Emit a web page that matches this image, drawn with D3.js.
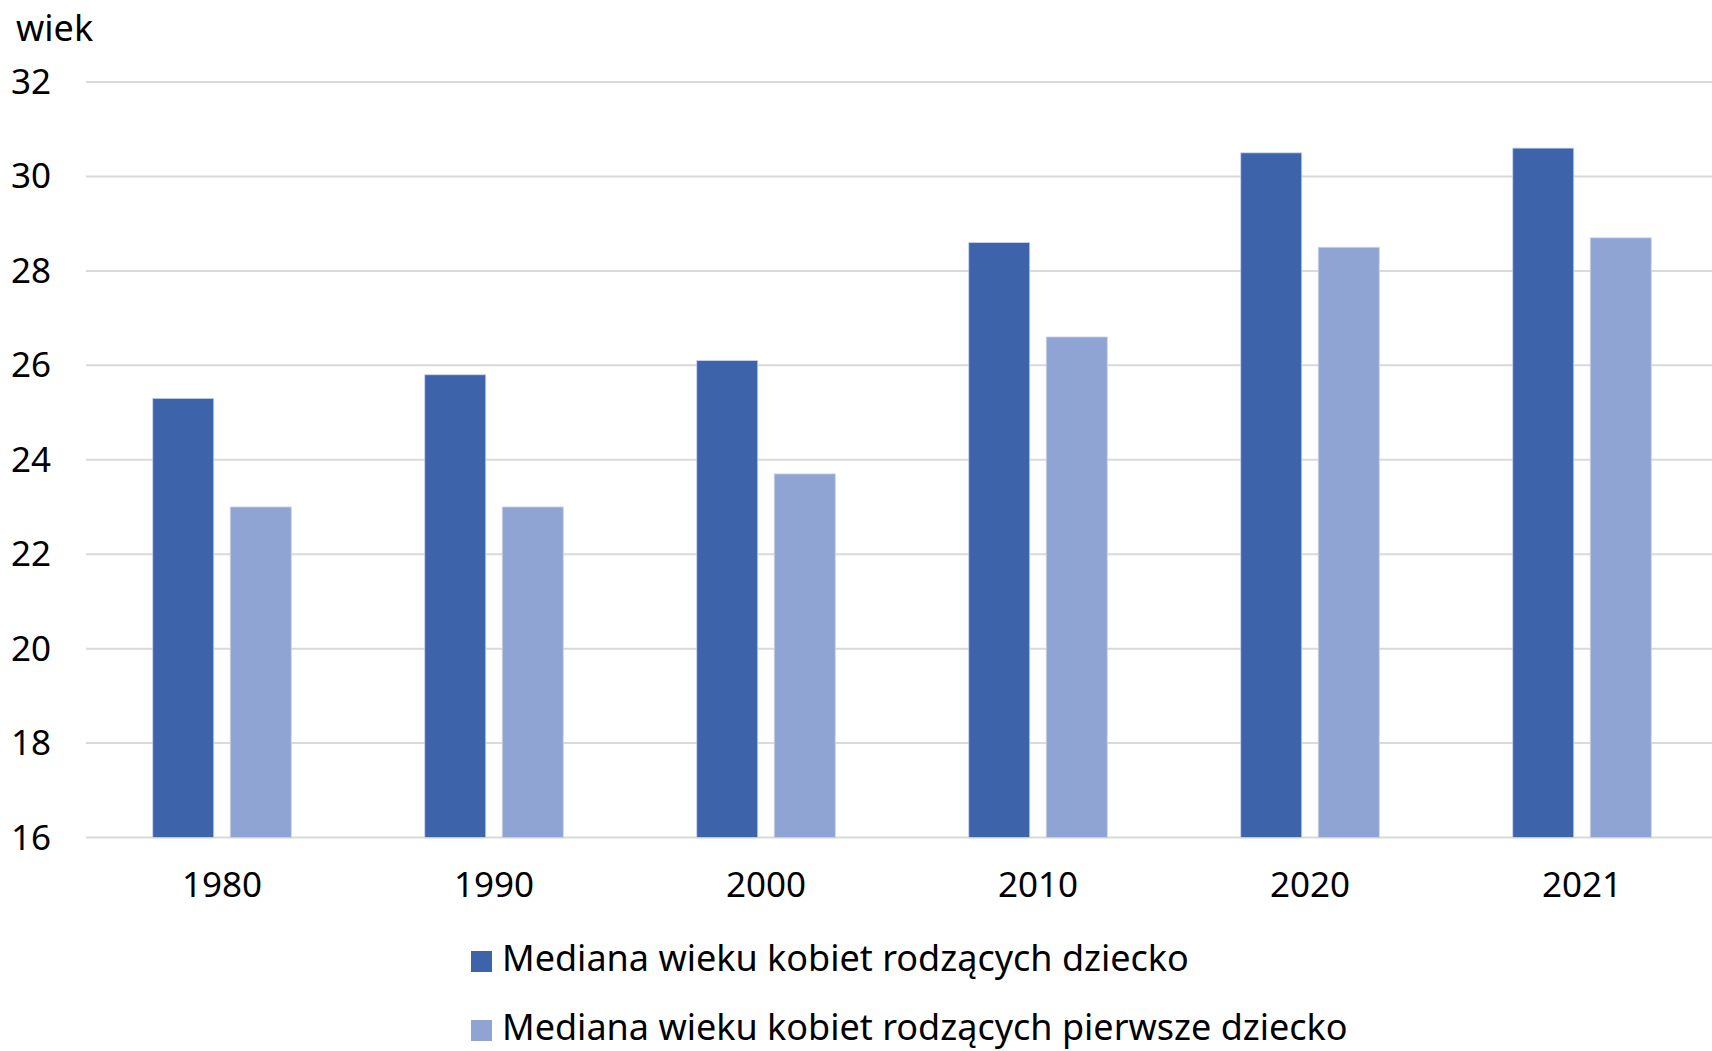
<!DOCTYPE html>
<html><head><meta charset="utf-8">
<script src="https://cdn.jsdelivr.net/npm/d3@7"></script>
<style>body{margin:0;background:#fff}svg{display:block}text{font-family:"Noto Sans",sans-serif;fill:#000}</style>
</head><body><svg id="c" width="1712" height="1051"></svg>
<script>
const categories = ["1980","1990","2000","2010","2020","2021"];
const seriesNames = ["Mediana wieku kobiet rodzących dziecko","Mediana wieku kobiet rodzących pierwsze dziecko"];
const medianAll = [25.3,25.8,26.1,28.6,30.5,30.6];
const medianFirst = [23.0,23.0,23.7,26.6,28.5,28.7];
const yTicks = [16,18,20,22,24,26,28,30,32];
const colors = ["#3D64AB","#90A4D4"];

(function(){
const svg = d3.select("#c");
const pL = 86, pR = 1712, pT = 82, pB = 837.5;
const x = d3.scaleBand().domain(categories).range([pL,pL+6*272]);
const y = d3.scaleLinear().domain([16,32]).range([pB,pT]);
const barW = 61, gap = 16.5;

svg.append("g").selectAll("line").data(yTicks).join("line")
  .attr("x1",pL).attr("x2",pR).attr("y1",d=>y(d)).attr("y2",d=>y(d))
  .attr("stroke","#D9D9D9").attr("stroke-width",2);

svg.append("g").selectAll("text").data(yTicks).join("text")
  .attr("x",51).attr("y",d=>y(d)+12).attr("text-anchor","end")
  .attr("font-size",35).text(d=>d);
svg.append("text").attr("x",16).attr("y",41).attr("font-size",36).text("wiek");

const data = [medianAll, medianFirst];
data.forEach((vals,si)=>{
  svg.append("g").selectAll("rect").data(categories).join("rect")
    .attr("x",(d)=>x(d)+x.bandwidth()/2 - (barW+gap/2) + si*(barW+gap))
    .attr("y",(d,i)=>y(vals[i]))
    .attr("width",barW)
    .attr("height",(d,i)=>y(16)-y(vals[i]))
    .attr("fill",colors[si])
    .attr("stroke","#C9D3EC").attr("stroke-width",0.8);
});

svg.append("g").selectAll("text").data(categories).join("text")
  .attr("x",d=>x(d)+x.bandwidth()/2).attr("y",897).attr("text-anchor","middle")
  .attr("font-size",35).text(d=>d);

seriesNames.forEach((n,i)=>{
  const ly = 951 + i*69;
  svg.append("rect").attr("x",471).attr("y",ly).attr("width",21).attr("height",21).attr("fill",colors[i]);
  svg.append("text").attr("x",502).attr("y",ly+20).attr("font-size",36).text(n);
});
})();
</script></body></html>
